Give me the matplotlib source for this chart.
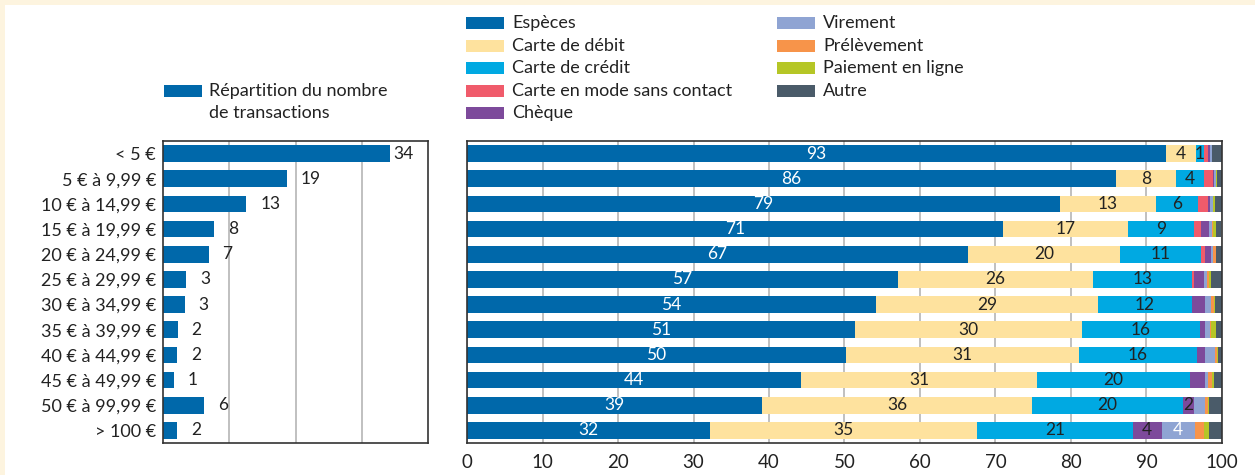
import numpy as np
import matplotlib.pyplot as plt
from matplotlib.patches import Rectangle

plt.rcParams['font.family'] = ['Lato', 'DejaVu Sans']

# ---- data ----
ranges = ['< 5 €', '5 € à 9,99 €', '10 € à 14,99 €', '15 € à 19,99 €', '20 € à 24,99 €',
          '25 € à 29,99 €', '30 € à 34,99 €', '35 € à 39,99 €', '40 € à 44,99 €',
          '45 € à 49,99 €', '50 € à 99,99 €', '> 100 €']

nb_transactions = [34.3, 18.7, 12.6, 7.7, 6.9, 3.5, 3.3, 2.2, 2.1, 1.6, 6.2, 2.1]
nb_labels = ['34', '19', '13', '8', '7', '3', '3', '2', '2', '1', '6', '2']

methods = ['Espèces', 'Carte de débit', 'Carte de crédit', 'Carte en mode sans contact',
           'Chèque', 'Virement', 'Prélèvement', 'Paiement en ligne', 'Autre']

especes = [92.6, 86.0, 78.5, 71.0, 66.4, 57.1, 54.2, 51.4, 50.2, 44.3, 39.1, 32.2]
debit = [3.9, 7.9, 12.7, 16.5, 20.1, 25.8, 29.4, 30.0, 30.9, 31.2, 35.7, 35.4]
credit = [1.1, 3.7, 5.6, 8.8, 10.7, 13.1, 12.4, 15.7, 15.55, 20.3, 20.0, 20.6]
sans_contact = [0.5, 1.2, 1.3, 0.9, 0.6, 0.35, 0.0, 0.0, 0.0, 0.0, 0.0, 0.0]
cheque = [0.3, 0.2, 0.35, 1.1, 0.75, 1.2, 1.75, 0.65, 1.1, 2.0, 1.55, 3.8]
virement = [0.3, 0.2, 0.3, 0.35, 0.2, 0.5, 0.75, 0.65, 1.3, 0.3, 1.35, 4.4]
prelevement = [0.0, 0.0, 0.0, 0.1, 0.5, 0.2, 0.45, 0.15, 0.35, 0.6, 0.4, 1.2]
paiement = [0.0, 0.2, 0.3, 0.45, 0.0, 0.25, 0.1, 0.6, 0.1, 0.3, 0.2, 0.65]
autre = [1.3, 0.6, 0.95, 0.7, 0.75, 1.5, 0.95, 0.85, 0.5, 1.0, 1.7, 1.75]

especes_labels = ['93', '86', '79', '71', '67', '57', '54', '51', '50', '44', '39', '32']
debit_labels = ['4', '8', '13', '17', '20', '26', '29', '30', '31', '31', '36', '35']
credit_labels = ['1', '4', '6', '9', '11', '13', '12', '16', '16', '20', '20', '21']
cheque_labels = [''] * 10 + ['2', '4']
virement_labels = [''] * 11 + ['4']

series = [especes, debit, credit, sans_contact, cheque, virement, prelevement, paiement, autre]
series_labels = [especes_labels, debit_labels, credit_labels, None, cheque_labels,
                 virement_labels, None, None, None]

colors = ['#0068AA', '#FEE29E', '#00A9E2', '#F05B6B', '#7D4A9B',
          '#8FA4D3', '#F7944A', '#B5C626', '#4A5B69']
label_colors = ['white', '#222222', '#222222', '#222222', '#222222',
                'white', '#222222', '#222222', '#222222']

W, H = 1255, 475
fig = plt.figure(figsize=(W / 100, H / 100), dpi=100)
fig.patch.set_facecolor('#FDF4DF')
fig.add_artist(Rectangle((5 / W, 0), (W - 5) / W, (H - 5) / H, transform=fig.transFigure,
                         facecolor='white', edgecolor='none', zorder=-10))


def fx(x):
    return x / W


def fy(y):
    return 1 - y / H


txt = '#222222'
grid_c = '#BBBBBB'
spine_c = '#333333'

# ---- left panel ----
ax1 = fig.add_axes([fx(163), fy(443), fx(428) - fx(163), (443 - 141) / H])
y = np.arange(len(ranges))
ax1.barh(y, nb_transactions, height=0.66, color=colors[0], zorder=2)
ax1.set_xlim(0, 40)
ax1.set_ylim(len(ranges) - 0.5, -0.5)
ax1.set_xticks([10, 20, 30])
ax1.set_xticklabels([])
ax1.tick_params(axis='x', length=0)
ax1.grid(axis='x', color=grid_c, linewidth=1.3, zorder=0)
ax1.set_yticks(y)
ax1.set_yticklabels(ranges, fontsize=13, color=txt)
ax1.tick_params(axis='y', length=0, pad=5)
for s in ax1.spines.values():
    s.set_color(spine_c)
    s.set_linewidth(1.2)
for i, (v, lab) in enumerate(zip(nb_transactions, nb_labels)):
    off = 2 if v > 30 else 10
    ax1.annotate(lab, (v, i), xytext=(off, 0), textcoords='offset points',
                 va='center', ha='left', fontsize=12.5, color=txt)

# ---- right panel ----
ax2 = fig.add_axes([fx(467), fy(443), fx(1222) - fx(467), (443 - 141) / H])
left = np.zeros(len(ranges))
for vals, col, labs, lc in zip(series, colors, series_labels, label_colors):
    vals = np.array(vals)
    ax2.barh(y, vals, left=left, height=0.66, color=col, zorder=2)
    if labs is not None:
        for i, lab in enumerate(labs):
            if lab:
                ax2.text(left[i] + vals[i] / 2, i, lab, ha='center', va='center',
                         fontsize=12.5, color=lc, zorder=3)
    left += vals
ax2.set_xlim(0, 100)
ax2.set_ylim(len(ranges) - 0.5, -0.5)
ax2.set_yticks([])
ax2.set_xticks(np.arange(0, 101, 10))
ax2.tick_params(axis='x', length=0, pad=8, labelsize=13.5, labelcolor=txt)
ax2.grid(axis='x', color=grid_c, linewidth=1.3, zorder=0)
ax2.set_axisbelow(True)
for s in ax2.spines.values():
    s.set_color(spine_c)
    s.set_linewidth(1.2)
    s.set_zorder(4)

# ---- legends ----
fig.add_artist(Rectangle((fx(164), fy(97)), fx(38), 12 / H, transform=fig.transFigure,
                         facecolor=colors[0], edgecolor='none'))
fig.text(fx(209), fy(91), 'Répartition du nombre', fontsize=13, color=txt, va='center')
fig.text(fx(209), fy(113), 'de transactions', fontsize=13, color=txt, va='center')

for k, (name, col) in enumerate(zip(methods, colors)):
    c, r = divmod(k, 5)
    x0 = 466 if c == 0 else 777
    yc = 23 + r * 22.6
    fig.add_artist(Rectangle((fx(x0), fy(yc + 6)), fx(38), 12 / H, transform=fig.transFigure,
                             facecolor=col, edgecolor='none'))
    fig.text(fx(x0 + 46), fy(yc), name, fontsize=13, color=txt, va='center')

fig.savefig('out.png', dpi=100)
